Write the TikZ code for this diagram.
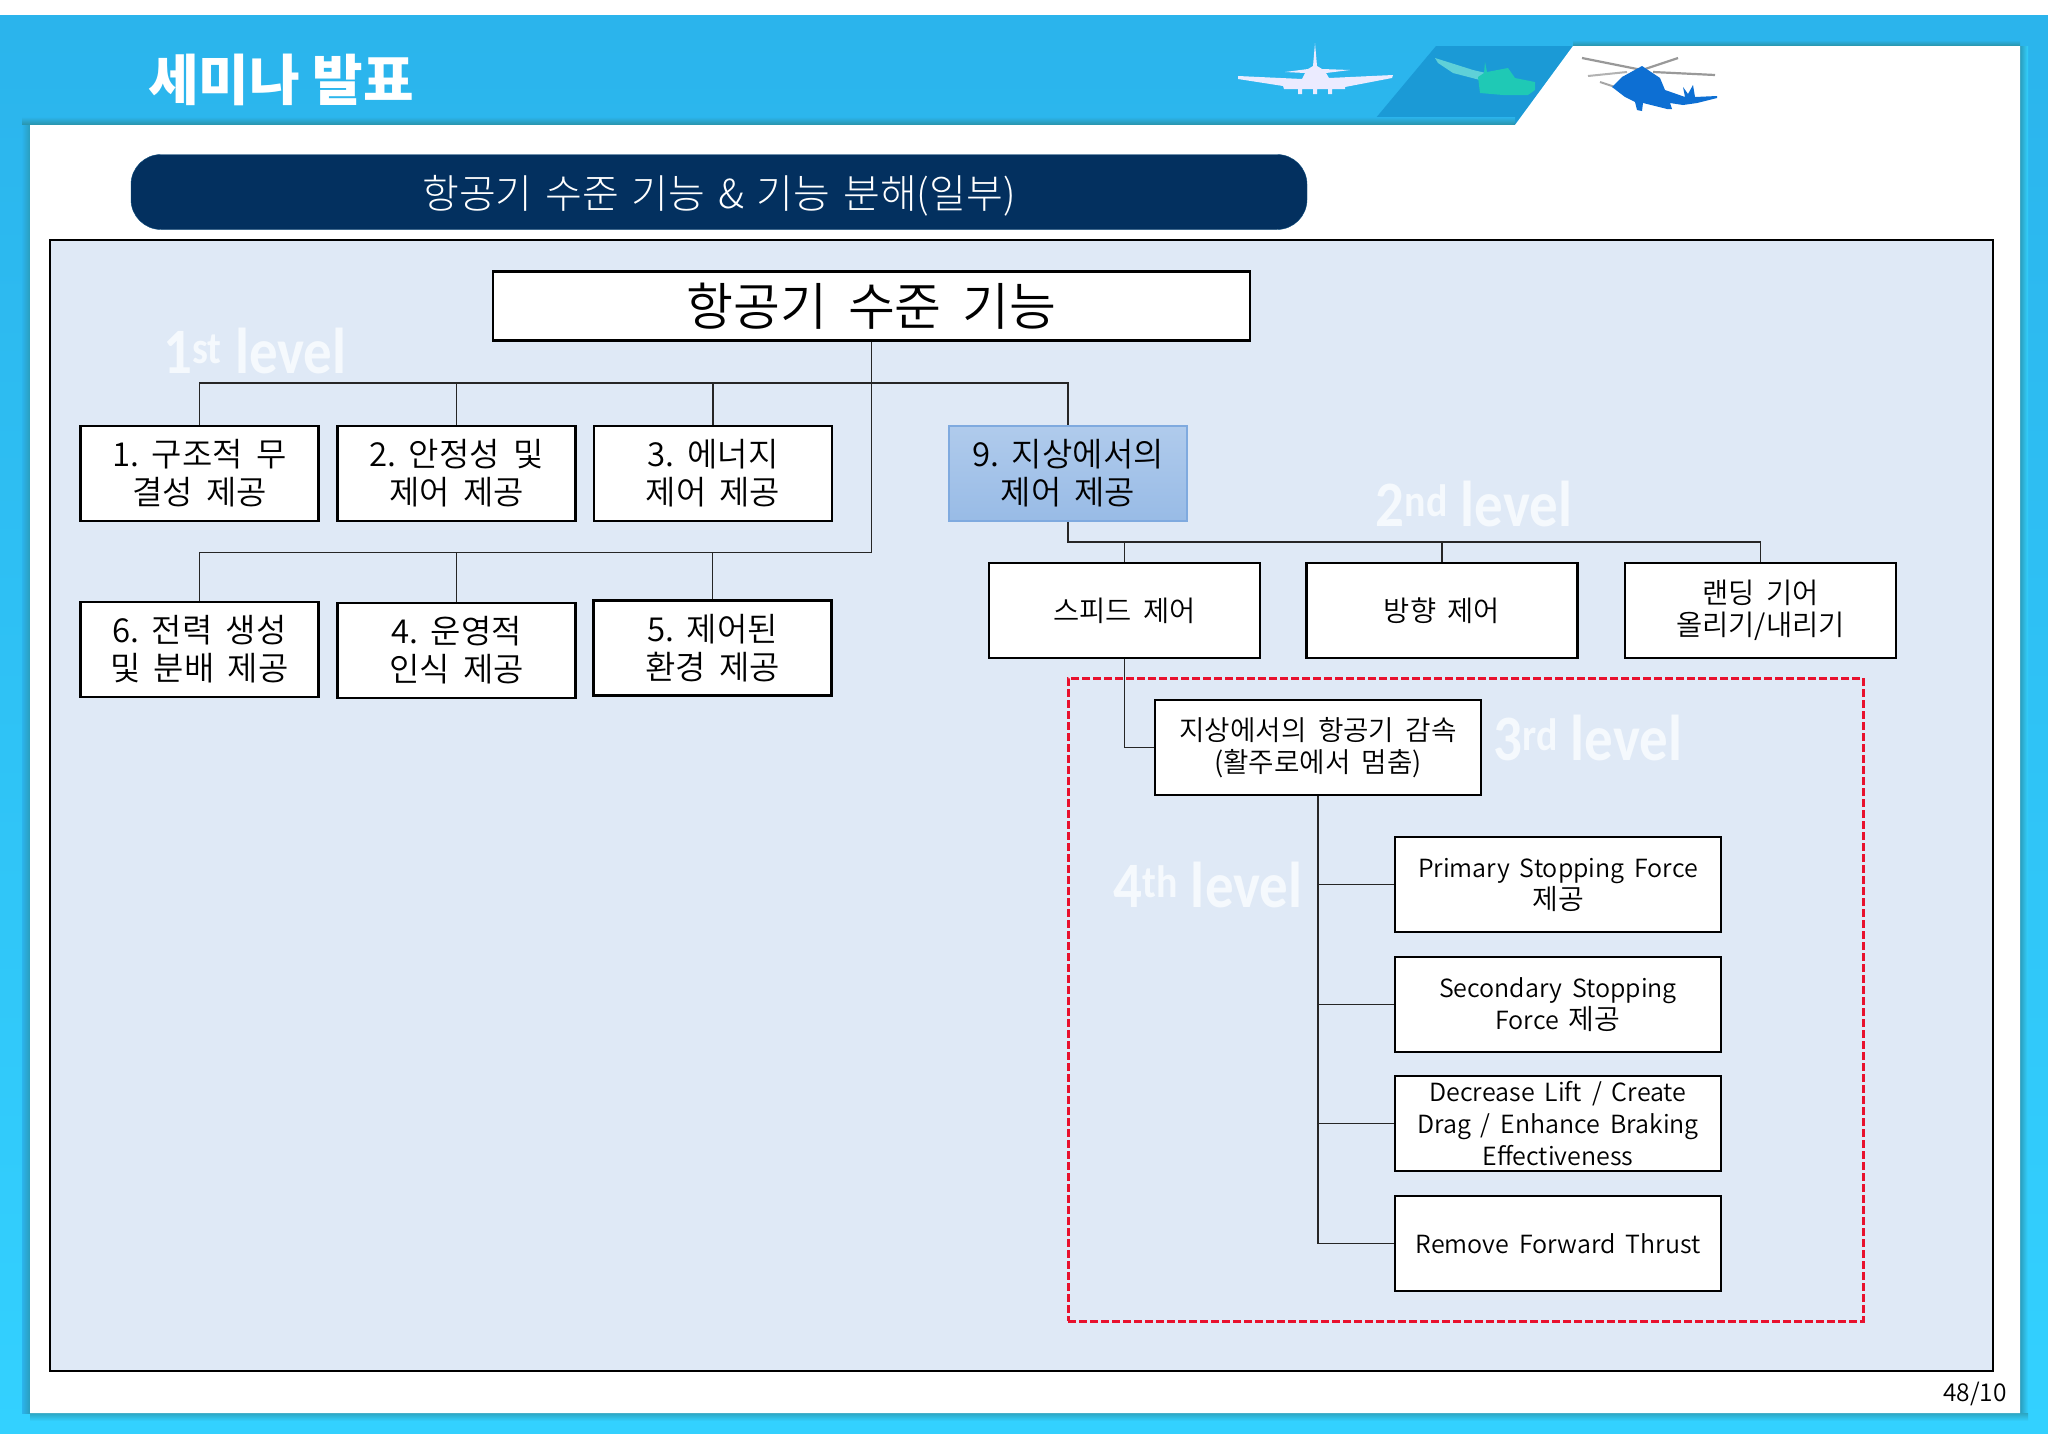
\documentclass[tikz,border=0pt]{standalone}
\usepackage{graphicx}
\usepackage{fontspec}
\setmainfont[WordSpace=1.8]{Noto Sans CJK KR DemiLight}
\newfontfamily\titlefont{Noto Sans CJK KR}
\newfontfamily\lightfont[WordSpace=1.45]{Noto Sans CJK KR Light}
\newfontfamily\levelfont{Carlito}
\usetikzlibrary{positioning}
\definecolor{skyblue}{HTML}{2BB4EC}
\definecolor{skylow}{HTML}{33D1FF}
\definecolor{skydark}{HTML}{1B9AD6}
\definecolor{shadowteal}{HTML}{2A93A8}
\definecolor{pillblue}{HTML}{03305F}
\definecolor{framefill}{HTML}{DFE9F6}
\definecolor{leveltext}{HTML}{F5F9FD}
\definecolor{dashred}{HTML}{E8112D}
\definecolor{tealplane}{HTML}{1FC9B5}
\definecolor{tealwing}{HTML}{5FD0D8}
\definecolor{heliblue}{HTML}{0D6FD3}
\definecolor{markedtop}{HTML}{B0CBEC}
\definecolor{markedlow}{HTML}{98BBE6}
\definecolor{markedline}{HTML}{7FAADF}
\tikzset{
	funcbox/.style={draw=black, fill=white, line width=2.7pt, inner sep=0pt, align=center, text=black},
	rootbox/.style={funcbox, minimum width=757pt, minimum height=69pt, font=\fontsize{51}{54}\selectfont},
	lvtwo/.style={funcbox, minimum width=238pt, minimum height=95pt, font=\fontsize{33}{38}\selectfont},
	lvthree/.style={funcbox, minimum width=271pt, minimum height=95pt, font=\fontsize{28.5}{32}\selectfont},
	lvfour/.style={funcbox, minimum width=326pt, minimum height=95pt, font=\fontsize{25}{32}\selectfont},
	levelname/.style={text=leveltext, inner sep=0pt, font=\levelfont\bfseries\fontsize{60}{60}\selectfont},
	wire/.style={draw=black!85, line width=1.7pt}
}
\newcommand{\lvltext}[2]{\scalebox{.95}[1.08]{#1\textsuperscript{#2} level}}
\begin{document}
\begin{tikzpicture}[x=1pt, y=-1pt]
	\useasboundingbox (0,0) rectangle (2048,1449);
	\fill[white] (0,0) rectangle (2048,1449);

	% slide background
	\shade[top color=skyblue, bottom color=skylow] (0,15) rectangle (2048,1433);
	\fill[skydark] (1436,46) -- (1573,46) -- (1515,125) -- (1370,125) -- cycle;
	\shade[top color=skyblue, bottom color=shadowteal] (22,117) rectangle (1515,125);
	\shade[left color=skyblue, right color=shadowteal!70!skyblue] (22,125) rectangle (30,1413);
	\shade[left color=shadowteal!70!skyblue, right color=skylow] (2020,46) rectangle (2028,1413);
	\shade[top color=shadowteal!70!skylow, bottom color=skylow] (30,1413) rectangle (2028,1421);
	\shade[top color=skyblue, bottom color=shadowteal] (1573,40) rectangle (2020,46);
	\fill[white] (30,125) -- (1515,125) -- (1573,46) -- (2020,46) -- (2020,1413) -- (30,1413) -- cycle;

	% aircraft
	\fill[white!92!blue] (1315,43) -- (1317,66) -- (1322,69) -- (1350,70) -- (1326,73) -- (1329,78) -- (1393,75) -- (1392,78) -- (1345,87) -- (1345,89) -- (1332,89) -- (1332,94) -- (1328,94) -- (1328,89) -- (1317,89) -- (1317,94) -- (1313,94) -- (1313,89) -- (1302,89) -- (1302,94) -- (1298,94) -- (1298,89) -- (1284,89) -- (1283,86) -- (1238,79) -- (1238,76) -- (1302,79) -- (1305,73) -- (1285,72) -- (1308,69) -- (1313,66) -- cycle;
	\fill[tealwing] (1435,58) -- (1473,70) -- (1490,74) -- (1480,80) -- (1453,73) -- (1438,63) -- cycle;
	\fill[tealplane] (1485,62) -- (1487,72) -- (1508,68) -- (1515,78) -- (1535,82) -- (1535,90) -- (1528,95) -- (1503,95) -- (1480,93) -- (1478,77) -- (1484,73) -- cycle;
	\draw[gray!80, line width=2.2pt] (1582,58) -- (1642,70);
	\draw[gray!80, line width=2.2pt] (1678,58) -- (1642,70);
	\draw[gray!80, line width=2.2pt] (1653,72) -- (1715,75);
	\draw[gray!60, line width=2pt] (1588,76) -- (1627,72);
	\draw[gray!70, line width=2pt] (1600,82) -- (1615,87);
	\fill[heliblue] (1642,66) -- (1660,78) -- (1665,90) -- (1685,97) -- (1683,87) -- (1688,94) -- (1693,85) -- (1695,97) -- (1717,96) -- (1717,98) -- (1697,103) -- (1683,105) -- (1670,103) -- (1672,109) -- (1667,109) -- (1643,103) -- (1642,111) -- (1637,110) -- (1635,102) -- (1625,97) -- (1612,87) -- (1622,77) -- cycle;

	% title
	\node[text=white, inner sep=0pt, font=\titlefont\bfseries\fontsize{55}{55}\selectfont] (title) at (281,80) {세미나 발표};
	\node[draw=pillblue!80!skyblue, fill=pillblue, rounded corners=30pt, minimum width=1176pt, minimum height=75pt, inner sep=0pt, text=white, text height=37pt, text depth=4pt, font=\lightfont\fontsize{40}{44}\selectfont] (subtitle) at (719,192) {항공기 수준 기능 \& 기능 분해(일부)};

	% main frame
	\node[draw=black, fill=framefill, line width=2.7pt, minimum width=1943pt, minimum height=1131pt, inner sep=0pt] (frame) at (1021.5,805.5) {};
	\node[inner sep=0pt, font=\fontsize{24.5}{28}\selectfont] (pagenum) at (1975,1394) {48/10};

	% level names
	\node[levelname] (lvla) at (255,351) {\lvltext{1}{st}};
	\node[levelname] (lvlb) at (1474,504) {\lvltext{2}{nd}};
	\node[levelname] (lvlc) at (1588,738) {\lvltext{3}{rd}};
	\node[levelname] (lvld) at (1208,885) {\lvltext{4}{th}};

	% dashed group
	\node[draw=dashred, dashed, dash pattern=on 8pt off 3pt, line width=3pt, minimum width=795pt, minimum height=643pt, inner sep=0pt] (group) at (1465.5,999.5) {};

	% boxes
	\node[rootbox] (root) at (871.5,306) {항공기 수준 기능};
	\node[lvtwo] (fa) at (199.5,473.5) {1.\kern-3pt{} 구조적 무\\결성 제공};
	\node[lvtwo] (fb) at (456.5,473.5) {2.\kern-3pt{} 안정성 및\\제어 제공};
	\node[lvtwo] (fc) at (713,473.5) {3.\kern-3pt{} 에너지\\제어 제공};
	\node[lvtwo, draw=markedline, line width=1.5pt, top color=markedtop, bottom color=markedlow] (fi) at (1068,473.5) {9.\kern-3pt{} 지상에서의\\제어 제공};
	\node[lvtwo] (ff) at (199.5,649.5) {6.\kern-3pt{} 전력 생성\\및 분배 제공};
	\node[lvtwo] (fd) at (456.5,650.5) {4.\kern-3pt{} 운영적\\인식 제공};
	\node[lvtwo] (fe) at (712.5,648) {5.\kern-3pt{} 제어된\\환경 제공};

	\node[lvthree] (sa) at (1124.5,610.5) {스피드 제어};
	\node[lvthree] (sb) at (1442,610.5) {방향 제어};
	\node[lvthree] (sc) at (1760.5,610.5) {랜딩 기어\\올리기/내리기};

	\node[lvthree, minimum width=326pt, font=\fontsize{27.7}{32}\selectfont] (decel) at (1318,747.5) {지상에서의 항공기 감속\\(활주로에서 멈춤)};
	\node[lvfour] (pa) at (1558,884.5) {Primary Stopping Force\\{\fontsize{28}{32}\selectfont 제공}};
	\node[lvfour] (pb) at (1558,1004.5) {Secondary Stopping\\Force {\fontsize{28}{32}\selectfont 제공}};
	\node[lvfour] (pc) at (1558,1123.5) {Decrease Lift / Create\\Drag / Enhance Braking\\Effectiveness};
	\node[lvfour] (pd) at (1558,1243.5) {Remove Forward Thrust};

	% connectors
	\coordinate (busa) at (871.5,383);
	\coordinate (busb) at (871.5,552.5);
	\coordinate (busc) at (1068,542);
	\draw[wire] (root.south) -- (busb);
	\draw[wire] (fa.north) |- (busa) -| (fi.north);
	\foreach \n in {fb, fc}
		\draw[wire] (\n.north) -- (\n.north |- busa);
	\draw[wire] (ff.north) |- (busb);
	\foreach \n in {fd, fe}
		\draw[wire] (\n.north) -- (\n.north |- busb);
	\draw[wire] (fi.south) -- (busc) -| (sc.north);
	\foreach \n in {sa, sb}
		\draw[wire] (\n.north) -- (\n.north |- busc);
	\draw[wire] (sa.south) |- (decel.west);
	\draw[wire] (decel.south) |- (pd.west);
	\foreach \n in {pa, pb, pc}
		\draw[wire] (\n.west) -- (\n.west -| decel.south);
\end{tikzpicture}
\end{document}
